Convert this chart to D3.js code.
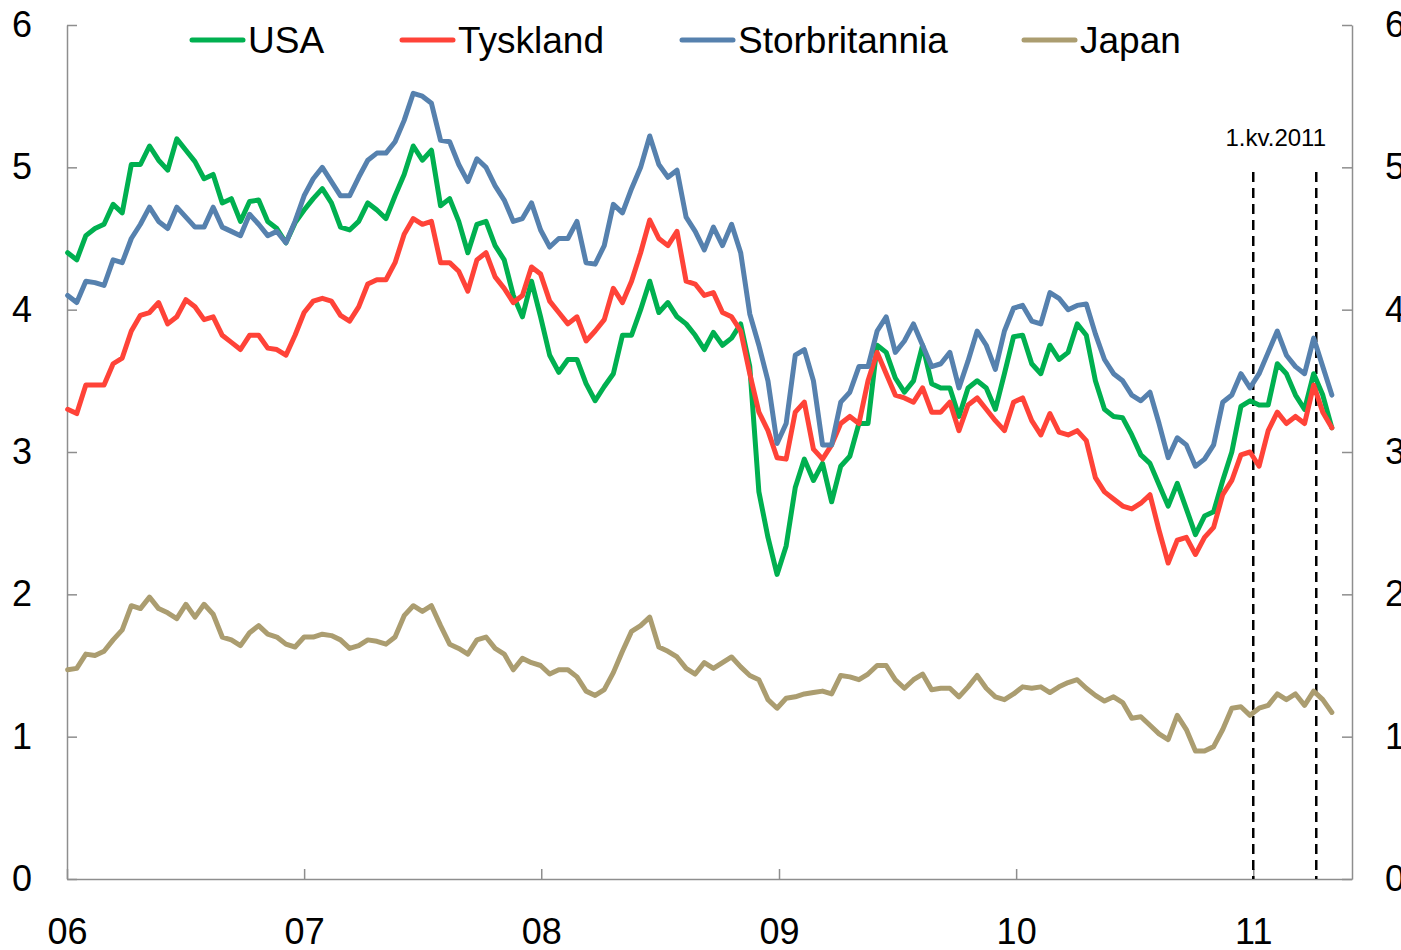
<!doctype html>
<html lang="no">
<head>
<meta charset="utf-8">
<title>Renter</title>
<style>
  body { margin:0; background:#fff; }
  svg { display:block; font-family:"Liberation Sans", Arial, sans-serif; }
</style>
</head>
<body>
<div id="chart"></div>
<script src="https://d3js.org/d3.v7.min.js"></script>
<script>
// data, one point every second week from 2 Jan 2006
var firstDate = "2006-01-02", stepDays = 14;

var usa = [4.40,4.35,4.52,4.57,4.60,4.74,4.68,5.02,5.02,5.15,5.05,4.98,5.20,5.12,5.04,4.92,4.95,4.75,4.78,4.62,
  4.76,4.77,4.62,4.57,4.47,4.61,4.70,4.78,4.85,4.75,4.58,4.56,4.62,4.75,4.70,4.64,4.80,4.95,5.15,5.05,
  5.12,4.73,4.78,4.62,4.40,4.60,4.62,4.45,4.35,4.10,3.95,4.20,3.95,3.68,3.56,3.65,3.65,3.48,3.36,3.46,
  3.55,3.82,3.82,4.00,4.20,3.98,4.05,3.95,3.90,3.82,3.72,3.84,3.75,3.80,3.90,3.60,2.72,2.40,2.14,2.34,
  2.75,2.95,2.80,2.92,2.65,2.90,2.97,3.20,3.20,3.75,3.70,3.52,3.42,3.50,3.75,3.48,3.45,3.45,3.25,3.45,
  3.50,3.45,3.30,3.55,3.81,3.82,3.62,3.55,3.75,3.65,3.70,3.90,3.82,3.50,3.30,3.25,3.24,3.12,2.98,2.92,
  2.77,2.62,2.78,2.60,2.42,2.55,2.58,2.80,3.00,3.32,3.36,3.33,3.33,3.62,3.55,3.40,3.30,3.55,3.40,3.17];

var tyskland = [3.30,3.27,3.47,3.47,3.47,3.62,3.66,3.85,3.96,3.98,4.05,3.90,3.95,4.07,4.02,3.93,3.95,3.82,3.77,3.72,
  3.82,3.82,3.73,3.72,3.68,3.82,3.98,4.06,4.08,4.06,3.96,3.92,4.02,4.18,4.21,4.21,4.33,4.53,4.64,4.60,
  4.62,4.33,4.33,4.27,4.13,4.35,4.40,4.23,4.15,4.05,4.10,4.30,4.25,4.06,3.98,3.90,3.95,3.78,3.85,3.93,
  4.15,4.05,4.20,4.40,4.63,4.50,4.45,4.55,4.20,4.18,4.10,4.12,3.98,3.95,3.85,3.55,3.28,3.15,2.96,2.95,
  3.28,3.35,3.02,2.95,3.05,3.20,3.25,3.20,3.50,3.70,3.55,3.40,3.38,3.35,3.45,3.28,3.28,3.35,3.15,3.33,
  3.38,3.30,3.22,3.15,3.35,3.38,3.22,3.12,3.27,3.14,3.12,3.15,3.08,2.82,2.72,2.67,2.62,2.60,2.64,2.70,
  2.45,2.22,2.38,2.40,2.28,2.40,2.47,2.70,2.80,2.98,3.00,2.90,3.15,3.28,3.20,3.25,3.20,3.47,3.28,3.17];

var storbritannia = [4.10,4.05,4.20,4.19,4.17,4.35,4.33,4.50,4.60,4.72,4.62,4.57,4.72,4.65,4.58,4.58,4.72,4.58,4.55,4.52,
  4.67,4.60,4.52,4.55,4.47,4.62,4.80,4.92,5.00,4.90,4.80,4.80,4.93,5.05,5.10,5.10,5.18,5.33,5.52,5.50,
  5.45,5.19,5.18,5.02,4.90,5.06,5.00,4.87,4.77,4.62,4.64,4.75,4.56,4.44,4.50,4.50,4.62,4.33,4.32,4.45,
  4.74,4.68,4.85,5.00,5.22,5.02,4.93,4.98,4.65,4.55,4.42,4.58,4.45,4.60,4.40,3.97,3.75,3.50,3.06,3.20,
  3.68,3.72,3.50,3.05,3.05,3.35,3.42,3.60,3.60,3.85,3.95,3.70,3.78,3.90,3.75,3.60,3.62,3.70,3.45,3.64,
  3.85,3.75,3.58,3.85,4.01,4.03,3.92,3.90,4.12,4.08,4.00,4.03,4.04,3.83,3.65,3.55,3.50,3.40,3.36,3.42,
  3.20,2.96,3.10,3.05,2.90,2.95,3.05,3.35,3.40,3.55,3.45,3.55,3.70,3.85,3.68,3.60,3.55,3.80,3.60,3.40];

var japan = [1.47,1.48,1.58,1.57,1.60,1.68,1.75,1.92,1.90,1.98,1.90,1.87,1.83,1.93,1.84,1.93,1.86,1.70,1.68,1.64,
  1.73,1.78,1.72,1.70,1.65,1.63,1.70,1.70,1.72,1.71,1.68,1.62,1.64,1.68,1.67,1.65,1.70,1.85,1.92,1.88,
  1.92,1.78,1.65,1.62,1.58,1.68,1.70,1.62,1.58,1.47,1.55,1.52,1.50,1.44,1.47,1.47,1.42,1.32,1.29,1.33,
  1.45,1.60,1.74,1.78,1.84,1.63,1.60,1.56,1.48,1.44,1.52,1.48,1.52,1.56,1.49,1.43,1.40,1.26,1.20,1.27,
  1.28,1.30,1.31,1.32,1.30,1.43,1.42,1.40,1.44,1.50,1.50,1.40,1.34,1.40,1.44,1.33,1.34,1.34,1.28,1.35,
  1.43,1.34,1.28,1.26,1.30,1.35,1.34,1.35,1.31,1.35,1.38,1.40,1.34,1.29,1.25,1.28,1.24,1.13,1.14,1.08,
  1.02,0.98,1.15,1.05,0.90,0.90,0.93,1.05,1.20,1.21,1.15,1.20,1.22,1.30,1.26,1.30,1.22,1.32,1.26,1.17];

var seriesNames = ["USA", "Tyskland", "Storbritannia", "Japan"];
var seriesColors = ["#00B050", "#FF4338", "#5681AE", "#AB9D70"];

var yTicks = [0, 1, 2, 3, 4, 5, 6];
var yearTicks = ["2006-01-01", "2007-01-01", "2008-01-01", "2009-01-01", "2010-01-01", "2011-01-01"];
var yearLabels = ["06", "07", "08", "09", "10", "11"];

// the quarter marked with dashed lines
var quarterLines = ["2011-01-01", "2011-04-08"];
var quarterLabel = "1.kv.2011";

var w = 1401, h = 950;
var plotLeft = 67, plotRight = 1352, plotTop = 25, plotBottom = 879;

var dates = usa.map(function(d, i) {
  return d3.utcDay.offset(new Date(firstDate), i * stepDays);
});

var x = d3.scaleUtc()
  .domain([new Date("2006-01-01"), new Date("2011-06-02")])
  .range([plotLeft, plotRight]);
var y = d3.scaleLinear().domain([0, 6]).range([plotBottom, plotTop]);

var svg = d3.select("#chart").append("svg")
  .attr("width", w)
  .attr("height", h);

// axes, ticks point inwards
var fontSize = 36;
var axisColor = "#8e8e8e";

var gl = svg.append("g")
  .attr("transform", "translate(" + plotLeft + ",0)")
  .call(d3.axisLeft(y).tickValues(yTicks).tickFormat(d3.format("d"))
    .tickSizeInner(-10).tickSizeOuter(0).tickPadding(35));
var gr = svg.append("g")
  .attr("transform", "translate(" + plotRight + ",0)")
  .call(d3.axisRight(y).tickValues(yTicks).tickFormat(d3.format("d"))
    .tickSizeInner(-10).tickSizeOuter(0).tickPadding(33));
var gb = svg.append("g")
  .attr("transform", "translate(0," + plotBottom + ")")
  .call(d3.axisBottom(x)
    .tickValues(yearTicks.map(function(d) { return new Date(d); }))
    .tickFormat(function(d, i) { return yearLabels[i]; })
    .tickSizeInner(-10).tickSizeOuter(0).tickPadding(39));

[gl, gr, gb].forEach(function(g) {
  g.selectAll("path, line").attr("stroke", axisColor).attr("stroke-width", 1.5);
  g.selectAll("text")
    .attr("fill", "#000")
    .style("font-size", fontSize + "px")
    .style("font-family", "'Liberation Sans', Arial, sans-serif");
});

// dashed lines for the quarter
svg.selectAll(".qline")
  .data(quarterLines)
  .enter()
  .append("line")
  .attr("x1", function(d) { return x(new Date(d)); })
  .attr("x2", function(d) { return x(new Date(d)); })
  .attr("y1", 172)
  .attr("y2", plotBottom)
  .attr("stroke", "#000")
  .attr("stroke-width", 2.5)
  .attr("stroke-dasharray", "10,6");

svg.append("text")
  .attr("x", d3.mean(quarterLines, function(d) { return x(new Date(d)); }) - 9)
  .attr("y", 146)
  .attr("text-anchor", "middle")
  .style("font-size", "24px")
  .text(quarterLabel);

// the lines
var allSeries = [usa, tyskland, storbritannia, japan];
var line = d3.line()
  .x(function(d, i) { return x(dates[i]); })
  .y(function(d) { return y(d); });

svg.selectAll(".serie")
  .data(allSeries)
  .enter()
  .append("path")
  .attr("d", line)
  .attr("fill", "none")
  .attr("stroke", function(d, i) { return seriesColors[i]; })
  .attr("stroke-width", 5)
  .attr("stroke-linejoin", "round")
  .attr("stroke-linecap", "round");

// legend
var legendX = [190, 400, 680, 1022];
var lg = svg.selectAll(".legend")
  .data(seriesNames)
  .enter()
  .append("g")
  .attr("transform", function(d, i) { return "translate(" + legendX[i] + ",40)"; });
lg.append("line")
  .attr("x1", 2).attr("x2", 53)
  .attr("stroke", function(d, i) { return seriesColors[i]; })
  .attr("stroke-width", 5)
  .attr("stroke-linecap", "round");
lg.append("text")
  .attr("x", 58)
  .attr("dy", "0.35em")
  .style("font-size", "37px")
  .text(function(d) { return d; });
</script>
</body>
</html>
